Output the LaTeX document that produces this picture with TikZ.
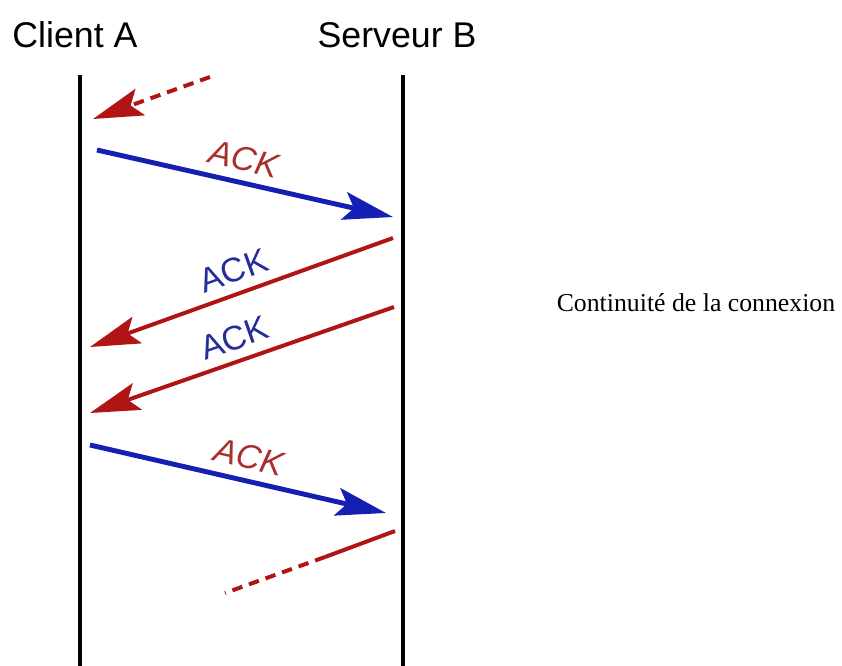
\documentclass[tikz,border=0pt]{standalone}
\usepackage{fontspec}
\setmainfont{Liberation Serif}
\setsansfont{Liberation Sans}
\usetikzlibrary{arrows.meta}
\definecolor{ackred}{HTML}{B01414}
\definecolor{ackblue}{HTML}{1420B4}
\definecolor{labred}{HTML}{A8302C}
\definecolor{labblue}{HTML}{262C9C}
\tikzset{life/.style={line width=3.2pt,black},
msg/.style={-{Stealth[length=15mm,width=8.4mm,inset=3mm]}},
tomsg/.style={msg,line width=4.2pt,ackblue},
backmsg/.style={msg,line width=3.4pt,ackred},
ack/.style={font=\sffamily\fontsize{29}{32}\selectfont,sloped,above=8pt,inner sep=0pt},
who/.style={font=\sffamily\fontsize{30.5}{34}\selectfont,inner sep=0pt}}

\begin{document}
\begin{tikzpicture}[x=0.3mm,y=-0.3mm]
\useasboundingbox (0,0) rectangle (842,666);
\node[who] (client) at (75,35) {Client A};
\node[who] (serveur) at (397,35) {Serveur B};
\node[font=\fontsize{22}{26}\selectfont,inner sep=0pt] (cont) at (696,303) {Continuité de la connexion};
\coordinate (atop) at (80,75); \coordinate (abot) at (80,666);
\coordinate (btop) at (403,75); \coordinate (bbot) at (403,666);
\draw[life] (atop) -- (abot);
\draw[life] (btop) -- (bbot);
\coordinate (m1s) at (210,77); \coordinate (m1e) at (93,119);
\coordinate (m2s) at (97,150); \coordinate (m2e) at (393,217);
\coordinate (m3s) at (393,238); \coordinate (m3e) at (90,347);
\coordinate (m4s) at (394,307); \coordinate (m4e) at (90,413);
\coordinate (m5s) at (90,445); \coordinate (m5e) at (386,513);
\coordinate (m6s) at (395,531); \coordinate (m6m) at (325,557); \coordinate (m6e) at (225,593);
\draw[backmsg,dash pattern=on 9pt off 6pt] (m1s) -- (m1e);
\draw[tomsg] (m2s) -- (m2e) node[ack,pos=0.48,text=labred] {\itshape ACK};
\draw[backmsg] (m3s) -- (m3e) node[ack,pos=0.5,text=labblue] {ACK};
\draw[backmsg] (m4s) -- (m4e) node[ack,pos=0.5,text=labblue] {ACK};
\draw[tomsg] (m5s) -- (m5e) node[ack,pos=0.52,text=labred] {\itshape ACK};
\draw[line width=3.4pt,ackred] (m6s) -- (m6m);
\draw[line width=3.4pt,ackred,dash pattern=on 9pt off 6pt] (m6m) -- (m6e);
\end{tikzpicture}
\end{document}
